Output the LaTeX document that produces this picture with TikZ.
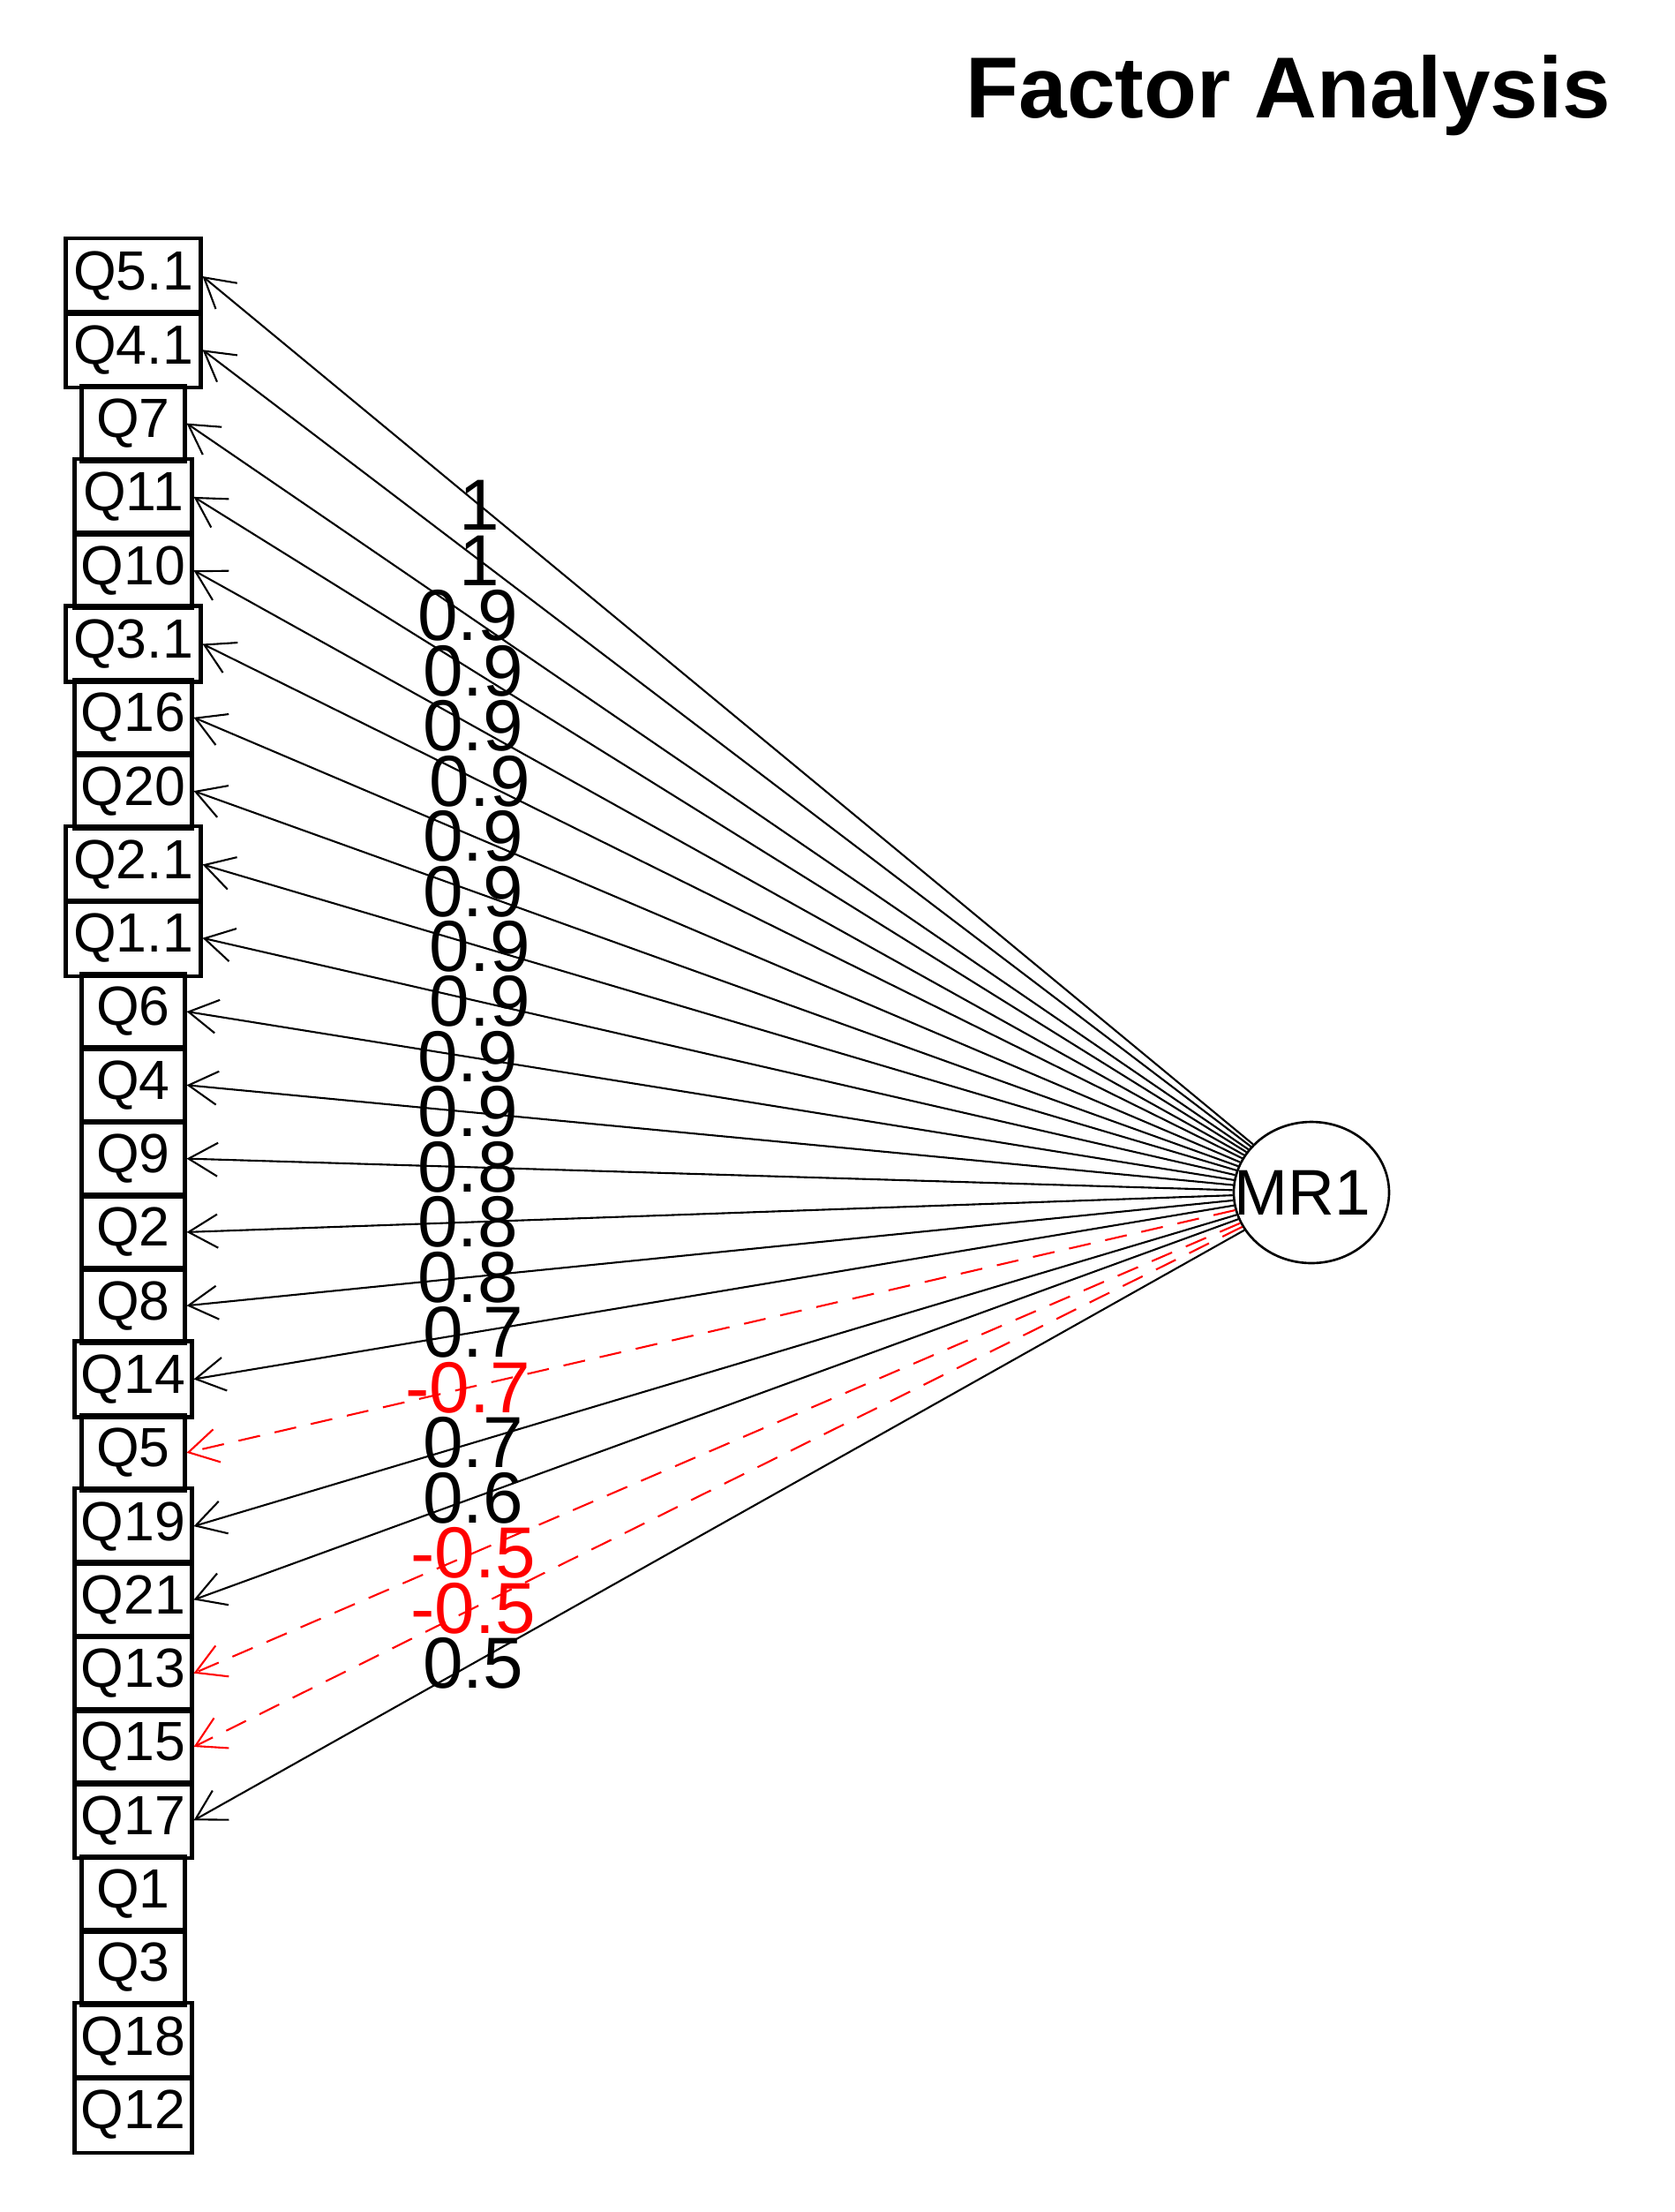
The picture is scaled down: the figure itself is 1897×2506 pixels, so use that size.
\documentclass[tikz,border=0pt]{standalone}
\usepackage{fontspec}
\setmainfont{Liberation Sans}
\usetikzlibrary{arrows.meta,calc,shapes.geometric}
\begin{document}
\begin{tikzpicture}[x=0.1mm,y=-0.1mm,
  qbox/.style={draw, line width=1.15pt, rectangle, minimum height=8.6mm, inner sep=0pt,
    font=\fontsize{17.8}{20}\selectfont},
  wfour/.style={qbox, minimum width=15.3mm},
  wthree/.style={qbox, minimum width=13.3mm},
  wtwo/.style={qbox, minimum width=11.7mm},
  posarrow/.style={line width=0.6pt, -{Straight Barb[length=3.3mm,width=3.8mm]}},
  negarrow/.style={posarrow, red, dash pattern=on 2.5mm off 1.7mm},
  lbl/.style={inner sep=0pt, font=\fontsize{23.3}{26}\selectfont},
  nlbl/.style={lbl, text=red},
  factor/.style={draw, ellipse, line width=0.75pt, minimum width=17.6mm, minimum height=16mm,
    inner sep=0pt, font=\fontsize{20.8}{24}\selectfont},
  titlestyle/.style={font=\bfseries\fontsize{27.9}{32}\selectfont, anchor=base, inner sep=0pt}
]
\path[use as bounding box] (0,0) rectangle (1897,2506);

\node[titlestyle] (title) at (1460,133) {Factor Analysis};

% variable boxes
\node[wfour]  (q1)  at (151,313)    {Q5.1};
\node[wfour]  (q2)  at (151,396.3)  {Q4.1};
\node[wtwo]   (q3)  at (151,479.6)  {Q7};
\node[wthree] (q4)  at (151,562.9)  {Q11};
\node[wthree] (q5)  at (151,646.2)  {Q10};
\node[wfour]  (q6)  at (151,729.5)  {Q3.1};
\node[wthree] (q7)  at (151,812.8)  {Q16};
\node[wthree] (q8)  at (151,896.1)  {Q20};
\node[wfour]  (q9)  at (151,979.4)  {Q2.1};
\node[wfour]  (q10) at (151,1062.7) {Q1.1};
\node[wtwo]   (q11) at (151,1146)   {Q6};
\node[wtwo]   (q12) at (151,1229.3) {Q4};
\node[wtwo]   (q13) at (151,1312.6) {Q9};
\node[wtwo]   (q14) at (151,1395.9) {Q2};
\node[wtwo]   (q15) at (151,1479.2) {Q8};
\node[wthree] (q16) at (151,1562.5) {Q14};
\node[wtwo]   (q17) at (151,1645.8) {Q5};
\node[wthree] (q18) at (151,1729.1) {Q19};
\node[wthree] (q19) at (151,1812.4) {Q21};
\node[wthree] (q20) at (151,1895.7) {Q13};
\node[wthree] (q21) at (151,1979)   {Q15};
\node[wthree] (q22) at (151,2062.3) {Q17};
\node[wtwo]   (q23) at (151,2145.6) {Q1};
\node[wtwo]   (q24) at (151,2228.9) {Q3};
\node[wthree] (q25) at (151,2312.2) {Q18};
\node[wthree] (q26) at (151,2395.5) {Q12};

% factor
\node[factor] (mr) at (1486,1351) {\makebox[0pt]{\kern-2mm MR1}};

% connectors
\foreach \i in {1,...,16,18,19,22} {
  \draw[posarrow] (mr) -- (q\i.east);
}
\foreach \i in {17,20,21} {
  \draw[negarrow] (mr) -- (q\i.east);
}

% loadings
\node[lbl]  (l1)  at ($(mr.center)!0.75!(q1.east)$)  {1};
\node[lbl]  (l2)  at ($(mr.center)!0.75!(q2.east)$)  {1};
\node[lbl]  (l3)  at ($(mr.center)!0.75!(q3.east)$)  {0.9};
\node[lbl]  (l4)  at ($(mr.center)!0.75!(q4.east)$)  {0.9};
\node[lbl]  (l5)  at ($(mr.center)!0.75!(q5.east)$)  {0.9};
\node[lbl]  (l6)  at ($(mr.center)!0.75!(q6.east)$)  {0.9};
\node[lbl]  (l7)  at ($(mr.center)!0.75!(q7.east)$)  {0.9};
\node[lbl]  (l8)  at ($(mr.center)!0.75!(q8.east)$)  {0.9};
\node[lbl]  (l9)  at ($(mr.center)!0.75!(q9.east)$)  {0.9};
\node[lbl]  (l10) at ($(mr.center)!0.75!(q10.east)$) {0.9};
\node[lbl]  (l11) at ($(mr.center)!0.75!(q11.east)$) {0.9};
\node[lbl]  (l12) at ($(mr.center)!0.75!(q12.east)$) {0.9};
\node[lbl]  (l13) at ($(mr.center)!0.75!(q13.east)$) {0.8};
\node[lbl]  (l14) at ($(mr.center)!0.75!(q14.east)$) {0.8};
\node[lbl]  (l15) at ($(mr.center)!0.75!(q15.east)$) {0.8};
\node[lbl]  (l16) at ($(mr.center)!0.75!(q16.east)$) {0.7};
\node[nlbl] (l17) at ($(mr.center)!0.75!(q17.east)$) {-0.7};
\node[lbl]  (l18) at ($(mr.center)!0.75!(q18.east)$) {0.7};
\node[lbl]  (l19) at ($(mr.center)!0.75!(q19.east)$) {0.6};
\node[nlbl] (l20) at ($(mr.center)!0.75!(q20.east)$) {-0.5};
\node[nlbl] (l21) at ($(mr.center)!0.75!(q21.east)$) {-0.5};
\node[lbl]  (l22) at ($(mr.center)!0.75!(q22.east)$) {0.5};
\end{tikzpicture}
\end{document}
